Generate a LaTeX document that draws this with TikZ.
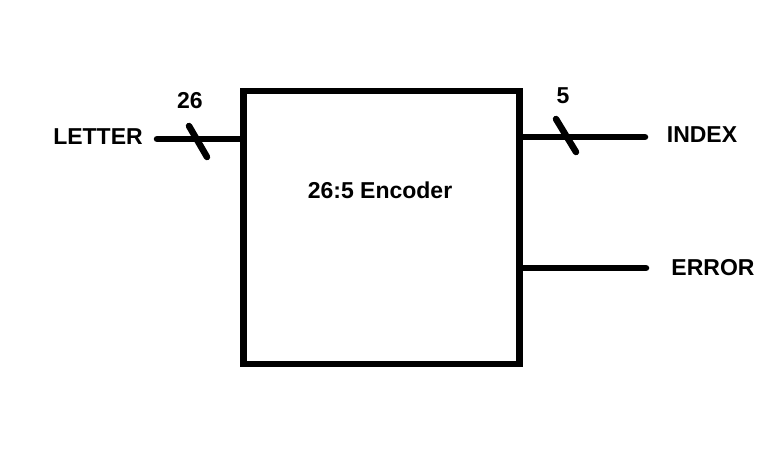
\documentclass[tikz,border=0pt]{standalone}
\usepackage{fontspec}
\setmainfont{Liberation Sans}
\begin{document}
\begin{tikzpicture}[x=1pt,y=-1pt,
  wire/.style={line width=6.5pt,line cap=round},
  lbl/.style={font=\fontsize{23}{27}\selectfont\bfseries,inner sep=0pt}]
\useasboundingbox[fill=white] (0,0) rectangle (778,464);
\node[draw,line width=6.5pt,minimum width=276pt,minimum height=273pt,inner sep=0pt] (enc) at (381.5,227.5) {};
\node[lbl] (title) at (380,190) {26:5 Encoder};
\coordinate (inL) at (157,139);
\coordinate (inR) at (enc.west |- inL);
\coordinate (outL) at (enc.east |- 0,137);
\coordinate (outR) at (645,137);
\coordinate (errL) at (enc.east |- 0,268);
\coordinate (errR) at (646,268);
\draw[wire] (inL) -- (inR);
\draw[wire] (outL) -- (outR);
\draw[wire] (errL) -- (errR);
\coordinate (s1a) at (189,126);
\coordinate (s1b) at (207,157);
\coordinate (s2a) at (556,119);
\coordinate (s2b) at (576,152);
\draw[wire] (s1a) -- (s1b);
\draw[wire] (s2a) -- (s2b);
\node[lbl] (letter) at (98,137) {LETTER};
\node[lbl] (n26) at (190,101) {26};
\node[lbl] (index) at (702,135) {INDEX};
\node[lbl] (n5) at (563,96) {5};
\node[lbl] (error) at (713,268) {ERROR};
\end{tikzpicture}
\end{document}
